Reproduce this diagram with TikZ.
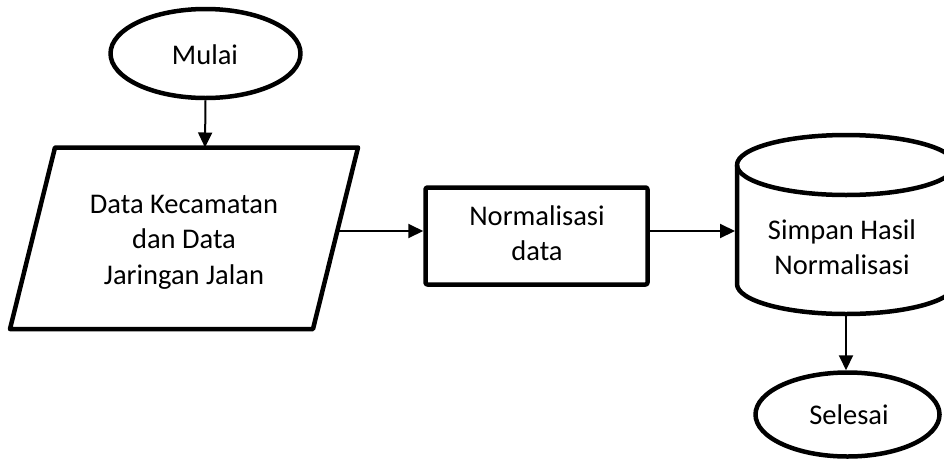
\documentclass[tikz,border=0pt]{standalone}
\usepackage{fontspec}
\setmainfont{Carlito}
\usetikzlibrary{arrows.meta,shapes.geometric}
\tikzset{
  shapeline/.style={draw=black, line width=4.5pt, line join=round},
  terminal/.style={shapeline, ellipse, inner sep=0pt},
  flowlabel/.style={align=center, font=\fontsize{28.5}{35.5}\selectfont, inner sep=0pt},
  flowarrow/.style={draw=black, line width=2pt, -{Triangle[length=15pt,width=14pt]}},
}
\begin{document}
\begin{tikzpicture}[x=1pt, y=-1pt]
  \useasboundingbox (0,0) rectangle (944,461);
  \clip (0,0) rectangle (944,461);

  % start terminal
  \node[terminal, minimum width=190pt, minimum height=89pt] (start) at (205.5,53.5) {};
  \node[flowlabel] (startlbl) at (205,55) {Mulai};

  % input parallelogram
  \draw[shapeline] (55,147.5) coordinate (inTL) -- (358,147.5) coordinate (inTR)
    -- (313,329) coordinate (inBR) -- (10,329) coordinate (inBL) -- cycle;
  \node[flowlabel] (input) at (184,242) {Data Kecamatan\\dan Data\\Jaringan Jalan};
  \coordinate (inTop) at (205,147.5);
  \coordinate (inRight) at (337,231);

  % process box
  \node[shapeline, rounded corners=2pt, minimum width=222pt, minimum height=97pt]
    (norm) at (536.5,236) {};
  \node[flowlabel] (normlbl) at (537,233) {Normalisasi\\data};

  % stored data cylinder
  \draw[shapeline] (737,165) -- (737,284)
    arc[start angle=180, end angle=360, x radius=109pt, y radius=30pt] -- (955,165);
  \draw[shapeline] (846,165) ellipse[x radius=109pt, y radius=30pt];
  \node[flowlabel] (store) at (842,247) {Simpan Hasil\\Normalisasi};
  \coordinate (storeLeft) at (735,231);
  \coordinate (storeBottom) at (846,314);

  % end terminal
  \node[terminal, minimum width=184pt, minimum height=84pt] (finish) at (847.5,414.5) {};
  \node[flowlabel] (finishlbl) at (849,415) {Selesai};

  % connectors
  \draw[flowarrow] (start.south) -- (inTop);
  \draw[flowarrow] (inRight) -- (norm.west |- inRight);
  \draw[flowarrow] (norm.east |- inRight) -- (storeLeft);
  \draw[flowarrow] (storeBottom) -- (finish.north -| storeBottom);
\end{tikzpicture}
\end{document}
